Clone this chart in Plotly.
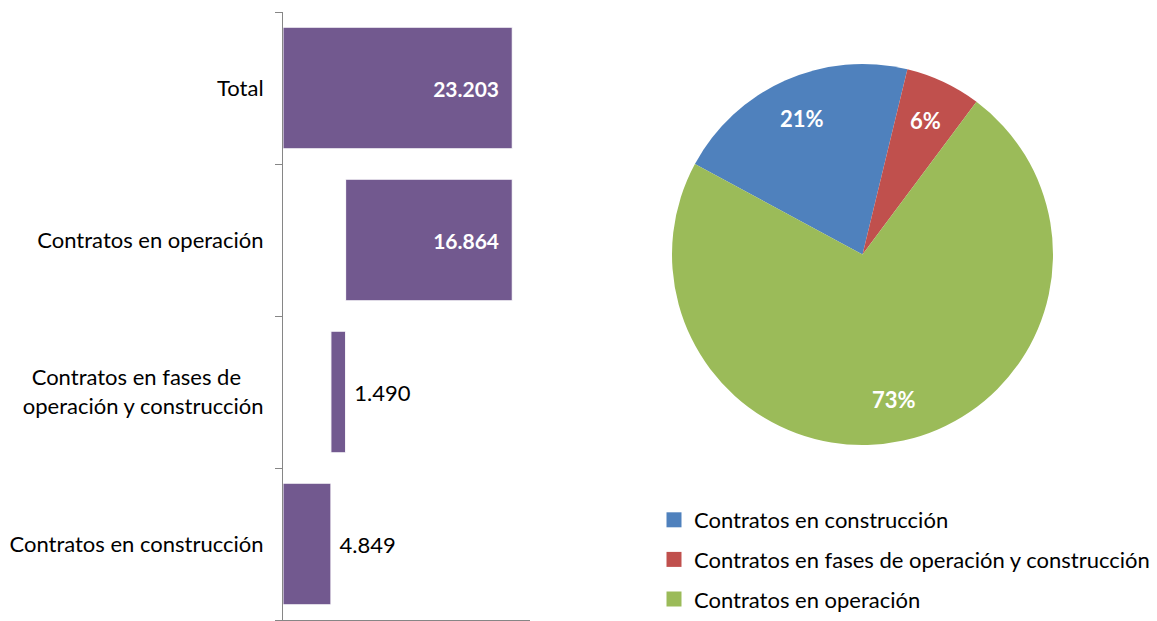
import math
import plotly.graph_objects as go

# ---- data ----
bar_categories = ["Contratos en construcción",
                  "Contratos en fases de\u00a0\u00a0\u00a0\u00a0<br>operación y construcción",
                  "Contratos en operación",
                  "Total"]
bar_values = [4849, 1490, 16864, 23203]
bar_is_total = [False, False, False, True]

pie_labels = ["Contratos en construcción",
              "Contratos en fases de operación y construcción",
              "Contratos en operación"]
pie_values = [4849, 1490, 16864]

# ---- styling ----
FONT = "Lato"
PURPLE = "#72598F"
PIE_COLORS = ["#4F81BD", "#C0504D", "#9BBB59"]
AXIS_GRAY = "#868686"
OFF = 8                      # page body margin
W, H = 1157 - OFF, 621 - OFF


def px(xp):   # page x -> paper fraction
    return (xp - OFF) / W


def py(yp):   # page y -> paper fraction
    return 1 - (yp - OFF) / H


# waterfall bases computed from the data
bases = []
running = 0
for v, tot in zip(bar_values, bar_is_total):
    if tot:
        bases.append(0)
    else:
        bases.append(running)
        running += v

big = [v > 0.3 * max(bar_values) for v in bar_values]
textpos = ["inside" if b else "outside" for b in big]
ttemps = ["%{x:,}\u00a0\u00a0" if b else "\u00a0%{x:,}" for b in big]

fig = go.Figure()

fig.add_trace(go.Bar(
    y=bar_categories, x=bar_values, base=bases, orientation="h",
    marker=dict(color=PURPLE, line=dict(color="white", width=1)),
    texttemplate=ttemps, textposition=textpos,
    insidetextanchor="end",
    insidetextfont=dict(family=FONT, size=21, color="white", weight="bold"),
    outsidetextfont=dict(family=FONT, size=22, color="black"),
    cliponaxis=False, showlegend=False, hoverinfo="skip",
))

# pie geometry (page pixels)
PIE_L, PIE_R, PIE_T, PIE_B = 672, 1053, 64, 445
ROT = -61.6
fig.add_trace(go.Pie(
    labels=pie_labels, values=pie_values, sort=False, direction="clockwise",
    rotation=ROT, marker=dict(colors=PIE_COLORS),
    textinfo="none",
    domain=dict(x=[px(PIE_L), px(PIE_R)], y=[py(PIE_B), py(PIE_T)]),
    showlegend=False, hoverinfo="label+percent",
))

# percentage labels placed at slice mid-angles
cx, cy = (PIE_L + PIE_R) / 2, (PIE_T + PIE_B) / 2
R = (PIE_R - PIE_L) / 2
total = sum(pie_values)
start = ROT
for v in pie_values:
    span = 360 * v / total
    mid = math.radians(start + span / 2)
    start += span
    r = 0.78 * R
    lx = cx + r * math.sin(mid)
    ly = cy - r * math.cos(mid)
    fig.add_annotation(
        x=px(lx), y=py(ly), xref="paper", yref="paper", showarrow=False,
        xanchor="center", yanchor="middle",
        text=f"{round(100 * v / total)}%",
        font=dict(family=FONT, size=22, color="white", weight="bold"),
    )

# legend entries (one group each so spacing can be controlled)
for lab, col in zip(pie_labels, PIE_COLORS):
    fig.add_trace(go.Scatter(
        x=[None], y=[None], mode="markers", name=lab, legendgroup=lab,
        marker=dict(symbol="square", size=15, color=col),
        showlegend=True, hoverinfo="skip",
    ))

fig.update_layout(
    width=W, height=H, margin=dict(l=0, r=0, t=0, b=0),
    paper_bgcolor="white", plot_bgcolor="white",
    separators=",.",
    bargap=0.2,
    font=dict(family=FONT, size=22, color="black"),
    xaxis=dict(domain=[px(283), px(530)], range=[0, 25000],
               showgrid=False, zeroline=False, showticklabels=False,
               ticks="", showline=True, linecolor=AXIS_GRAY, linewidth=1,
               fixedrange=True),
    yaxis=dict(domain=[py(620), py(12)], showgrid=False,
               showline=True, linecolor=AXIS_GRAY, linewidth=1,
               ticks="outside", tickson="boundaries", ticklen=7,
               tickcolor=AXIS_GRAY, ticklabelstandoff=14,
               tickfont=dict(family=FONT, size=22, color="black"),
               categoryorder="array", categoryarray=bar_categories,
               fixedrange=True),
    legend=dict(x=px(654), y=py(499), xanchor="left", yanchor="top",
                font=dict(family=FONT, size=22, color="black"),
                tracegroupgap=8, itemclick=False, itemdoubleclick=False,
                bgcolor="rgba(0,0,0,0)"),
)

fig.write_html("out.html")
